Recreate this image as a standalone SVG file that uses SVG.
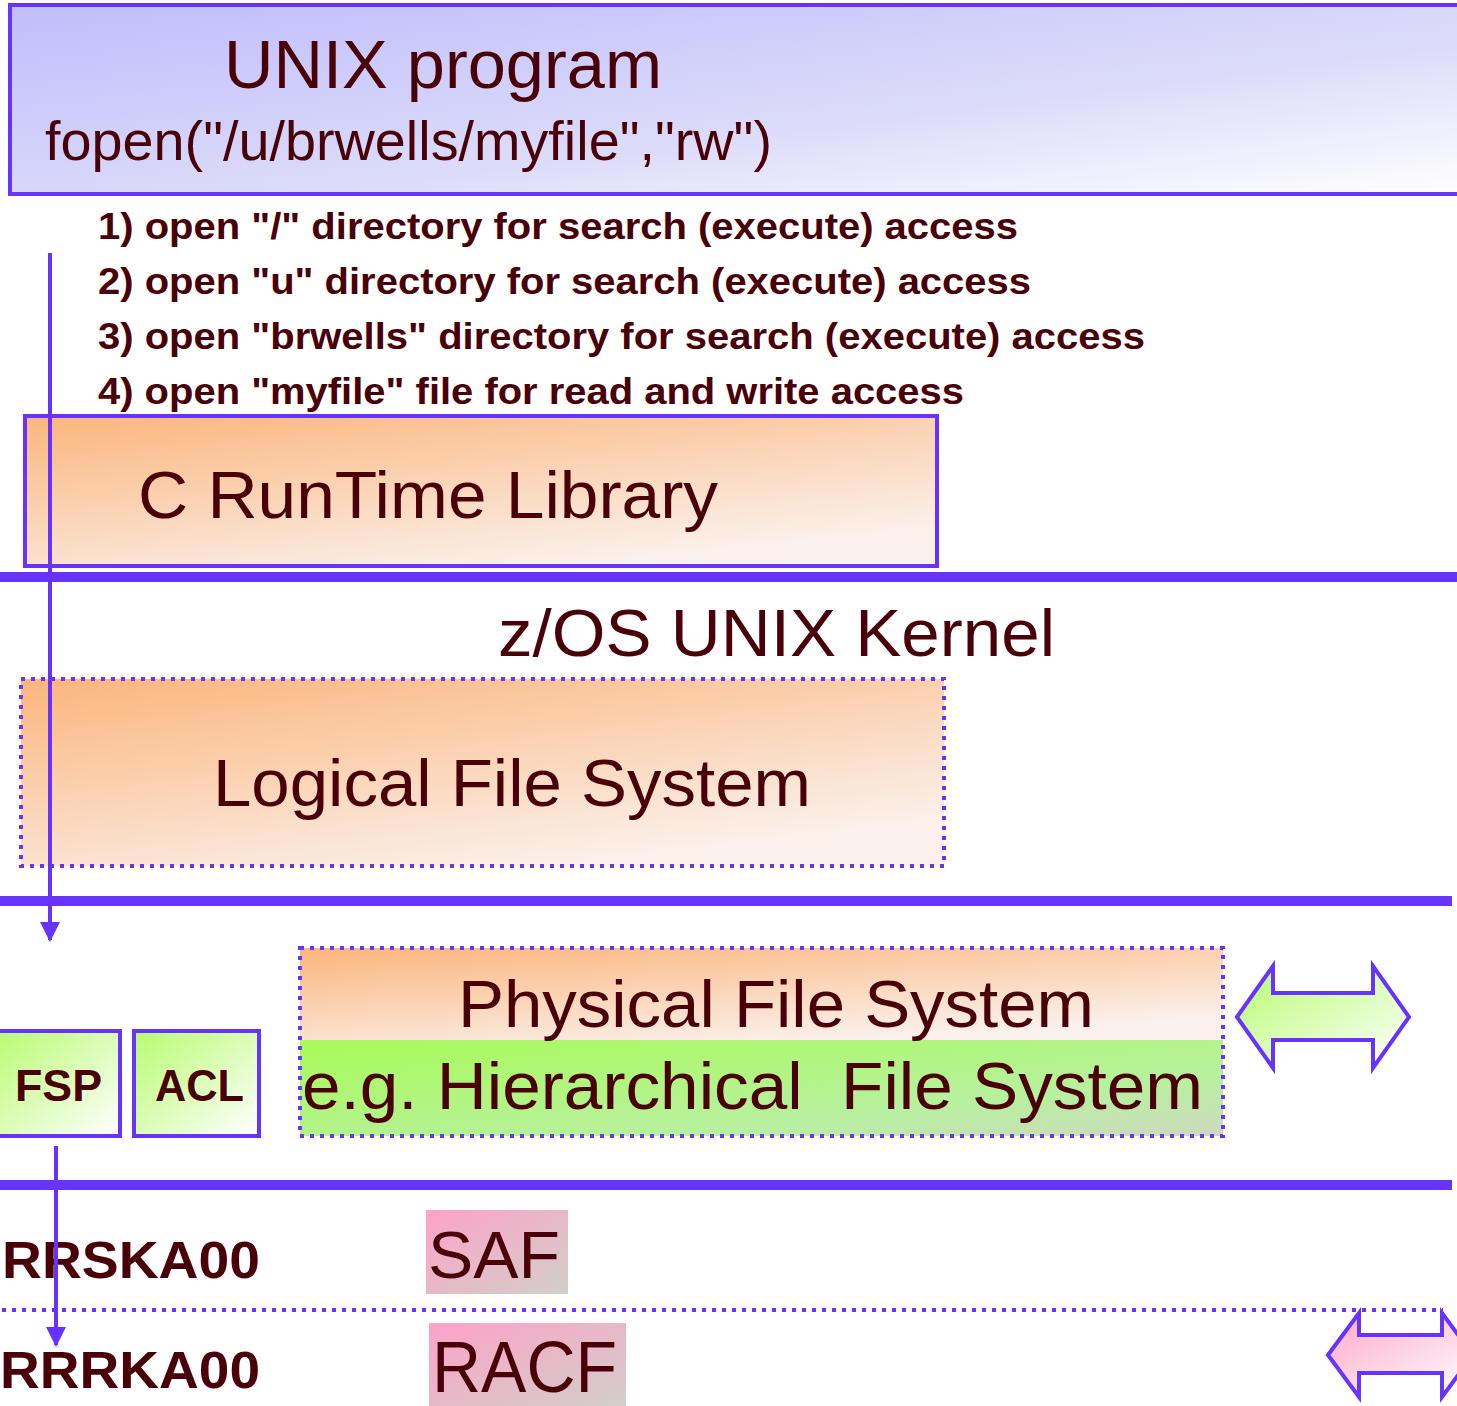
<svg xmlns="http://www.w3.org/2000/svg" width="1457" height="1406" viewBox="0 0 1457 1406">
<defs>
<linearGradient id="gBlue" x1="0" y1="0" x2="1" y2="1"><stop offset="0" stop-color="#bfbdfb"/><stop offset="0.6" stop-color="#dcdcfa"/><stop offset="1" stop-color="#ffffff"/></linearGradient>
<linearGradient id="gOrange" x1="0" y1="0" x2="0.6" y2="1"><stop offset="0" stop-color="#fbb57c"/><stop offset="1" stop-color="#fbf1ec"/></linearGradient>
<linearGradient id="gGreen" x1="0" y1="0" x2="1" y2="1"><stop offset="0" stop-color="#b8fb70"/><stop offset="1" stop-color="#ffffff"/></linearGradient>
<linearGradient id="gHfs" x1="0" y1="0" x2="1" y2="1"><stop offset="0" stop-color="#a8fb58"/><stop offset="0.7" stop-color="#b8f0a0"/><stop offset="1" stop-color="#cfd8c0"/></linearGradient>
<linearGradient id="gPink" x1="0" y1="0" x2="1" y2="1"><stop offset="0" stop-color="#fda2c8"/><stop offset="1" stop-color="#d2cfc8"/></linearGradient>
<linearGradient id="gPinkArrow" x1="0" y1="0" x2="1" y2="1"><stop offset="0" stop-color="#fca8c8"/><stop offset="1" stop-color="#ffffff"/></linearGradient>
<marker id="ah" viewBox="0 0 10 10" refX="9" refY="5" markerWidth="5" markerHeight="5" markerUnits="strokeWidth" orient="auto"><path d="M0,0 L10,5 L0,10 z" fill="#6633ff"/></marker>
<style>
.box{stroke:#6633ff;stroke-width:4}
.dot{stroke:#6633ff;stroke-width:4;stroke-dasharray:4 6}
.sep{stroke:#6633ff;stroke-width:10}
.t{font-family:"Liberation Sans",Arial,sans-serif;fill:#4a0008}
.b{font-weight:bold}
</style>
</defs>

<g id="unix-program">
<rect x="10" y="5" width="1460" height="189" fill="url(#gBlue)" class="box"/>
<text class="t" x="224" y="88" font-size="68" textLength="438" lengthAdjust="spacingAndGlyphs">UNIX program</text>
<text class="t" x="45" y="160" font-size="55" textLength="727" lengthAdjust="spacingAndGlyphs">fopen("/u/brwells/myfile","rw")</text>
</g>

<g id="steps">
<text class="t b" x="98" y="239" font-size="36" textLength="920" lengthAdjust="spacingAndGlyphs">1) open "/" directory for search (execute) access</text>
<text class="t b" x="98" y="294" font-size="36" textLength="933" lengthAdjust="spacingAndGlyphs">2) open "u" directory for search (execute) access</text>
<text class="t b" x="98" y="349" font-size="36" textLength="1047" lengthAdjust="spacingAndGlyphs">3) open "brwells" directory for search (execute) access</text>
<text class="t b" x="98" y="404" font-size="36" textLength="866" lengthAdjust="spacingAndGlyphs">4) open "myfile" file for read and write access</text>
</g>

<g id="c-runtime">
<rect x="25" y="416" width="912" height="150" fill="url(#gOrange)" class="box"/>
<text class="t" x="138" y="518" font-size="66" textLength="580" lengthAdjust="spacingAndGlyphs">C RunTime Library</text>
</g>

<g id="separators">
<line x1="0" y1="577" x2="1457" y2="577" class="sep"/>
<line x1="0" y1="901" x2="1452" y2="901" class="sep"/>
<line x1="0" y1="1185" x2="1452" y2="1185" class="sep"/>
<line x1="2" y1="1310" x2="1443" y2="1310" class="dot"/>
</g>

<g id="kernel">
<text class="t" x="498" y="656" font-size="66" textLength="557" lengthAdjust="spacingAndGlyphs">z/OS UNIX Kernel</text>
</g>

<g id="lfs">
<rect x="21" y="679" width="923" height="187" fill="url(#gOrange)" class="dot"/>
<text class="t" x="213" y="806" font-size="66" textLength="598" lengthAdjust="spacingAndGlyphs">Logical File System</text>
</g>

<g id="pfs">
<rect x="300" y="948" width="923" height="92" fill="url(#gOrange)"/>
<rect x="300" y="1040" width="923" height="96" fill="url(#gHfs)"/>
<rect x="300" y="948" width="923" height="188" fill="none" class="dot"/>
<text class="t" x="458" y="1027" font-size="66" textLength="636" lengthAdjust="spacingAndGlyphs">Physical File System</text>
<text class="t" x="302" y="1109" font-size="66" textLength="901" lengthAdjust="spacingAndGlyphs" xml:space="preserve">e.g. Hierarchical  File System</text>
</g>

<g id="green-arrow">
<path d="M1237,1017 L1273,966 L1273,993 L1373,993 L1373,966 L1409,1017 L1373,1068 L1373,1040 L1273,1040 L1273,1068 Z" fill="url(#gGreen)" class="box"/>
</g>

<g id="fsp">
<rect x="-5" y="1031" width="125" height="105" fill="url(#gGreen)" class="box"/>
<text class="t b" x="15" y="1101" font-size="45" textLength="87" lengthAdjust="spacingAndGlyphs">FSP</text>
</g>

<g id="acl">
<rect x="134" y="1031" width="125" height="105" fill="url(#gGreen)" class="box"/>
<text class="t b" x="155" y="1101" font-size="45" textLength="89" lengthAdjust="spacingAndGlyphs">ACL</text>
</g>

<g id="rrska00">
<text class="t b" x="2" y="1278" font-size="52" textLength="258" lengthAdjust="spacingAndGlyphs">RRSKA00</text>
</g>

<g id="saf">
<rect x="426" y="1210" width="142" height="84" fill="url(#gPink)"/>
<text class="t" x="428" y="1278" font-size="66" textLength="132" lengthAdjust="spacingAndGlyphs">SAF</text>
</g>

<g id="rrrka00">
<text class="t b" x="0" y="1388" font-size="52" textLength="260" lengthAdjust="spacingAndGlyphs">RRRKA00</text>
</g>

<g id="racf">
<rect x="429" y="1323" width="197" height="83" fill="url(#gPink)"/>
<text class="t" x="432" y="1392" font-size="72" textLength="185" lengthAdjust="spacingAndGlyphs">RACF</text>
</g>

<g id="pink-arrow">
<path d="M1328,1355 L1359,1313 L1359,1335 L1442,1335 L1442,1313 L1473,1355 L1442,1397 L1442,1373 L1359,1373 L1359,1397 Z" fill="url(#gPinkArrow)" class="box"/>
</g>

<g id="connectors">
<line x1="50" y1="253" x2="50" y2="940" stroke="#6633ff" stroke-width="4" marker-end="url(#ah)"/>
<line x1="56" y1="1146" x2="56" y2="1345" stroke="#6633ff" stroke-width="4" marker-end="url(#ah)"/>
</g>
</svg>
